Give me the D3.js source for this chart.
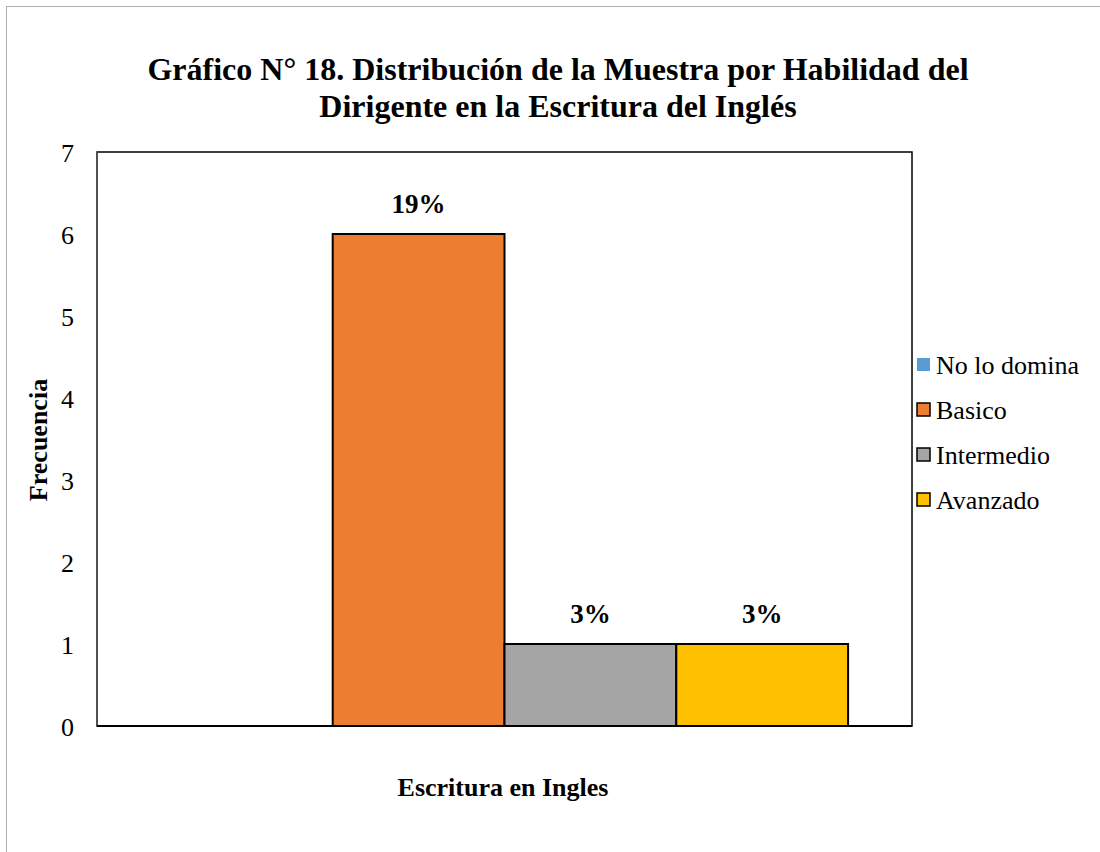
<!DOCTYPE html>
<html><head><meta charset="utf-8">
<script src="https://cdn.jsdelivr.net/npm/d3@7"></script>
<style>body{margin:0;background:#fff}svg{display:block}</style>
</head><body>
<script>
const categories = ["Escritura en Ingles"];
const seriesNames = ["No lo domina", "Basico", "Intermedio", "Avanzado"];
const seriesValues = [0, 6, 1, 1];
const seriesLabels = ["", "19%", "3%", "3%"];
const seriesColors = ["#5B9BD5", "#ED7D31", "#A5A5A5", "#FFC000"];
const yTicks = [0, 1, 2, 3, 4, 5, 6, 7];

(function () {
const W = 1100, H = 852;
const svg = d3.select("body").append("svg").attr("width", W).attr("height", H);
const font = "'Liberation Serif','Times New Roman',serif";

svg.append("rect").attr("x", 6.5).attr("y", 6.5).attr("width", W).attr("height", H)
  .attr("fill", "#fff").attr("stroke", "#b0b0b0").attr("stroke-width", 1);

const pL = 97, pR = 912, pT = 152, pB = 726;
const y = d3.scaleLinear().domain([0, 7]).range([pB, pT]);
const x0 = d3.scaleBand().domain(categories).range([pL, pR]).paddingOuter(0.093).paddingInner(0);
const x1 = d3.scaleBand().domain(seriesNames).range([0, x0.bandwidth()]);

// title
const title = svg.append("text").attr("text-anchor", "middle").attr("font-family", font)
  .attr("font-weight", "bold").attr("font-size", 32).attr("fill", "#000");
title.append("tspan").attr("x", 558).attr("y", 80).text("Gráfico N° 18. Distribución de la Muestra por Habilidad del");
title.append("tspan").attr("x", 558).attr("y", 117).text("Dirigente en la Escritura del Inglés");

// bars
const g = svg.append("g");
categories.forEach(c => {
  seriesNames.forEach((s, i) => {
    const v = seriesValues[i];
    if (v > 0) {
      g.append("rect")
        .attr("x", x0(c) + x1(s)).attr("y", y(v))
        .attr("width", x1.bandwidth()).attr("height", y(0) - y(v))
        .attr("fill", seriesColors[i]).attr("stroke", "#000").attr("stroke-width", 2);
    }
    if (seriesLabels[i]) {
      g.append("text").attr("x", x0(c) + x1(s) + x1.bandwidth() / 2).attr("y", y(v) - 21)
        .attr("text-anchor", "middle").attr("font-family", font).attr("font-weight", "bold")
        .attr("font-size", 27).text(seriesLabels[i]);
    }
  });
});

// plot frame
svg.append("rect").attr("x", pL).attr("y", pT).attr("width", pR - pL).attr("height", pB - pT)
  .attr("fill", "none").attr("stroke", "#000").attr("stroke-width", 1.5);
svg.append("line").attr("x1", pL).attr("x2", pL).attr("y1", pT).attr("y2", pB)
  .attr("stroke", "#595959").attr("stroke-width", 1.5);
svg.append("line").attr("x1", pL).attr("x2", pR).attr("y1", pB).attr("y2", pB)
  .attr("stroke", "#000").attr("stroke-width", 2);

// y axis
const yAxis = d3.axisLeft(y).tickValues(yTicks).tickSize(0).tickPadding(23).tickFormat(d3.format("d"));
const ya = svg.append("g").attr("transform", `translate(${pL},0)`).call(yAxis);
ya.select(".domain").remove();
ya.attr("font-family", font).attr("font-size", 26);
ya.selectAll("text").attr("font-family", font).attr("font-size", 26).attr("fill", "#000").attr("dy", "0.35em");

// axis titles
svg.append("text").attr("transform", "translate(47,440) rotate(-90)").attr("text-anchor", "middle")
  .attr("font-family", font).attr("font-weight", "bold").attr("font-size", 26).text("Frecuencia");
svg.append("text").attr("x", 503).attr("y", 796).attr("text-anchor", "middle")
  .attr("font-family", font).attr("font-weight", "bold").attr("font-size", 26).text("Escritura en Ingles");

// legend
const lg = svg.append("g").attr("transform", "translate(917,365)");
seriesNames.forEach((s, i) => {
  const row = lg.append("g").attr("transform", `translate(0,${i * 45})`);
  row.append("rect").attr("x", 0).attr("y", -7).attr("width", 13).attr("height", 13)
    .attr("fill", seriesColors[i]).attr("stroke", i === 0 ? "none" : "#000").attr("stroke-width", 1.5);
  row.append("text").attr("x", 19).attr("y", 9).attr("font-family", font).attr("font-size", 26).text(s);
});
})();
</script>
</body></html>
